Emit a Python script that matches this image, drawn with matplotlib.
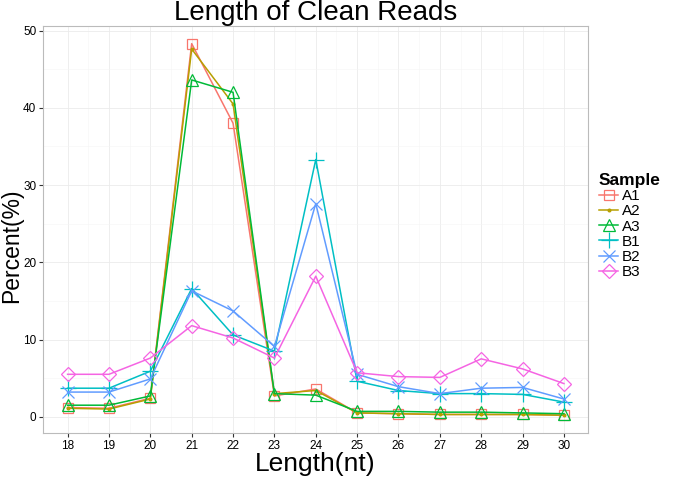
import matplotlib
matplotlib.use('Agg')
import matplotlib.pyplot as plt

plt.rcParams['font.family'] = ['Liberation Sans', 'DejaVu Sans']

lengths = [18, 19, 20, 21, 22, 23, 24, 25, 26, 27, 28, 29, 30]
samples = ['A1', 'A2', 'A3', 'B1', 'B2', 'B3']
a1 = [1.2, 1.1, 2.4, 48.3, 38.0, 2.7, 3.6, 0.5, 0.4, 0.3, 0.3, 0.3, 0.2]
a2 = [1.1, 1.0, 2.3, 47.6, 40.5, 3.0, 3.4, 0.5, 0.4, 0.3, 0.3, 0.3, 0.2]
a3 = [1.5, 1.5, 2.7, 43.6, 42.0, 3.0, 2.8, 0.7, 0.7, 0.6, 0.6, 0.5, 0.4]
b1 = [3.7, 3.7, 5.9, 16.6, 10.6, 8.5, 33.3, 4.6, 3.4, 3.0, 3.0, 2.9, 1.9]
b2 = [3.2, 3.2, 4.9, 16.3, 13.7, 9.1, 27.6, 5.5, 3.9, 3.0, 3.7, 3.8, 2.3]
b3 = [5.5, 5.5, 7.6, 11.8, 10.2, 7.6, 18.2, 5.7, 5.2, 5.1, 7.5, 6.2, 4.3]
series = [a1, a2, a3, b1, b2, b3]
colors = ['#F8766D', '#B79F00', '#00BA38', '#00BFC4', '#619CFF', '#F564E3']
markers = ['s', '.', '^', '+', 'x', 'D']
msizes = [7, 4, 8, 11, 8, 7]

fig = plt.figure(figsize=(6.75, 4.79), dpi=100)
ax = fig.add_axes([0.064, 0.096, 0.807, 0.85])

for vals, name, c, m, ms in zip(series, samples, colors, markers, msizes):
    face = c if m == '.' else 'none'
    ax.plot(lengths, vals, color=c, lw=1.1, marker=m, markersize=ms,
            markerfacecolor=face, markeredgecolor=c, markeredgewidth=0.9, label=name)

ax.set_xlim(17.41, 30.58)
ax.set_ylim(-2.1, 50.6)
ax.set_xticks(lengths)
ax.set_yticks([0, 10, 20, 30, 40, 50])
ax.set_yticks([5, 15, 25, 35, 45], minor=True)
ax.set_xticks([x + 0.5 for x in lengths[:-1]], minor=True)
ax.grid(True, which='major', color='#EBEBEB', lw=0.6)
ax.grid(True, which='minor', color='#F5F5F5', lw=0.4)
ax.set_axisbelow(True)
ax.tick_params(which='minor', length=0)
ax.tick_params(which='major', length=3, width=0.8, color='#333333', labelsize=8.5, pad=2)
for s in ax.spines.values():
    s.set_color('#BBBBBB')
    s.set_linewidth(0.8)

ax.set_title('Length of Clean Reads', fontsize=20, pad=1)
ax.set_xlabel('Length(nt)', fontsize=19, labelpad=0)
ax.set_ylabel('Percent(%)', fontsize=16.5)
ax.yaxis.set_label_coords(-0.036, 0.46)

leg = ax.legend(title='Sample', loc='upper left', bbox_to_anchor=(1.0, 0.665),
                frameon=False, fontsize=11, title_fontsize=12.5, handlelength=1.3,
                handletextpad=0.2, labelspacing=0.08, borderaxespad=0.3)
leg.get_title().set_fontweight('bold')
leg._legend_box.align = 'left'

fig.savefig('out.png', dpi=100)
